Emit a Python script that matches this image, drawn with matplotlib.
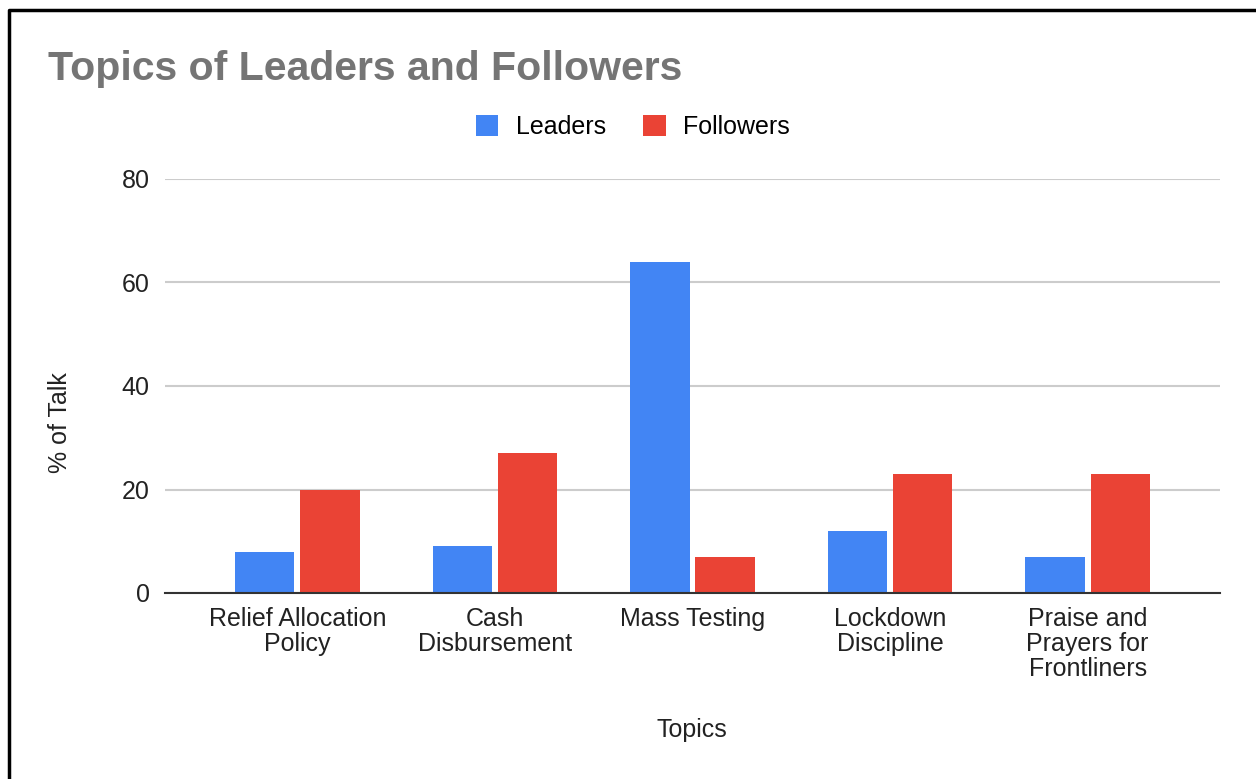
import matplotlib.pyplot as plt
from matplotlib.lines import Line2D
import numpy as np

plt.rcParams['font.family'] = ['Liberation Sans', 'DejaVu Sans']

# data
topics = ['Relief Allocation\nPolicy', 'Cash\nDisbursement', 'Mass Testing',
          'Lockdown\nDiscipline', 'Praise and\nPrayers for\nFrontliners']
leaders = [8, 9, 64, 12, 7]
followers = [20, 27, 7, 23, 23]
yticks = [0, 20, 40, 60, 80]

blue = '#4285F4'
red = '#EA4335'

W, H = 1256, 779
fig = plt.figure(figsize=(W / 100, H / 100), dpi=100)
ax = fig.add_axes([165 / W, 1 - 593 / H, (1220 - 165) / W, (593 - 179) / H])

x = np.arange(len(topics))
bw = 0.30
ax.bar(x - 0.165, leaders, bw, color=blue, label='Leaders', zorder=3)
ax.bar(x + 0.165, followers, bw, color=red, label='Followers', zorder=3)

ax.set_xlim(-0.67, len(topics) - 1 + 0.67)
ax.set_ylim(0, 80)
ax.set_yticks(yticks)
ax.set_xticks(x)
ax.set_xticklabels(topics, fontsize=18, color='#222222', linespacing=1.05)
ax.tick_params(axis='y', labelsize=18, labelcolor='#222222', length=0, pad=11)
ax.tick_params(axis='x', length=0, pad=10)
ax.grid(axis='y', color='#cccccc', linewidth=1.5, zorder=0)
for s in ['top', 'right', 'left']:
    ax.spines[s].set_visible(False)
ax.spines['bottom'].set_color('#333333')
ax.spines['bottom'].set_linewidth(1.5)
ax.spines['bottom'].set_zorder(4)

# title, axis labels, legend
fig.text(48 / W, 1 - 69 / H, 'Topics of Leaders and Followers', fontsize=29.5,
         fontweight='bold', color='#757575', va='center', ha='left')
fig.text(60 / W, 1 - 423 / H, '% of Talk', fontsize=18, color='#222222',
         rotation=90, va='center', ha='center')
fig.text(692 / W, 1 - 730 / H, 'Topics', fontsize=18, color='#222222',
         va='center', ha='center')
fig.legend(loc='center', bbox_to_anchor=(633 / W, 1 - 127 / H), ncol=2,
           frameon=False, fontsize=18, handlelength=0.9, handleheight=0.9,
           handletextpad=0.7, columnspacing=1.5)

# black frame on left and top edges
fig.add_artist(Line2D([8.5 / W, 8.5 / W, 1], [0, 1 - 9.5 / H, 1 - 9.5 / H],
                      transform=fig.transFigure, color='black', linewidth=2.5))

fig.savefig('out.png', dpi=100)
